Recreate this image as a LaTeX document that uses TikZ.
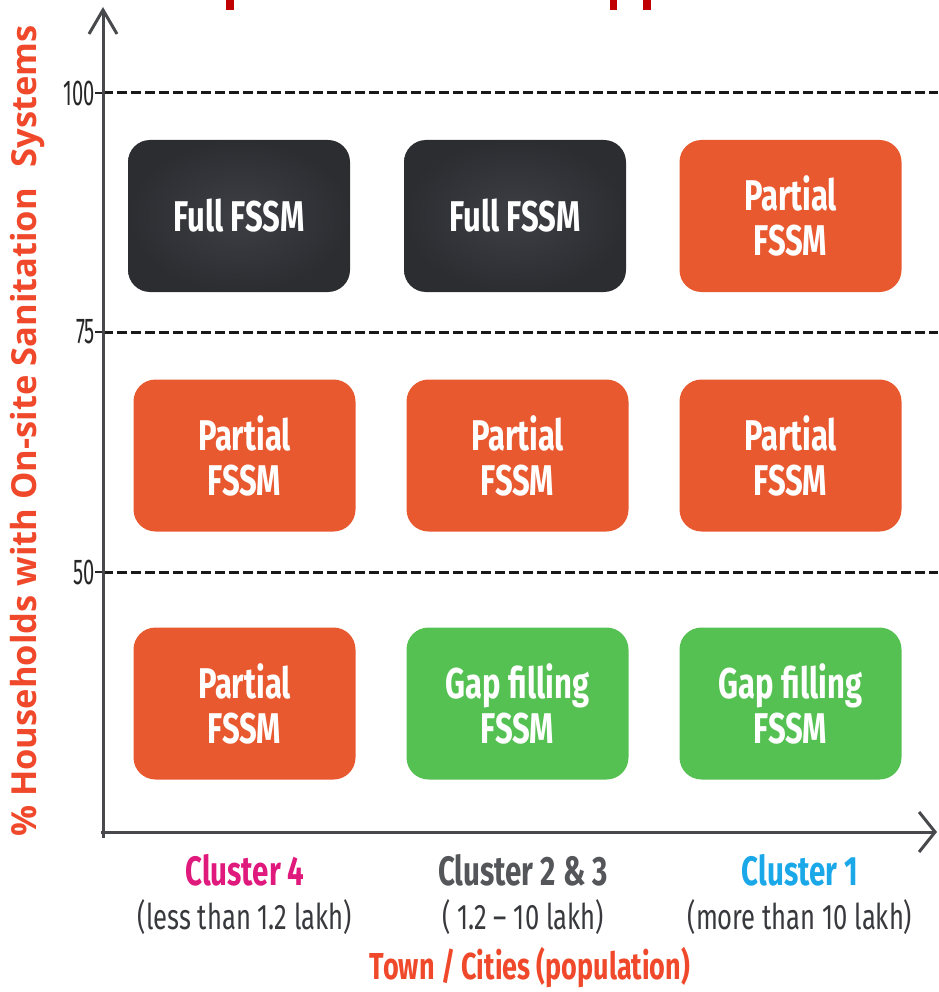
\documentclass[tikz,border=0pt]{standalone}
\usepackage{fontspec}
\newfontfamily\cond[FakeStretch=0.72]{Fira Sans}
\newfontfamily\tickfont[FakeStretch=0.56]{Fira Sans}
\newfontfamily\labfont{Open Sans}
\usetikzlibrary{arrows.meta}
\definecolor{darkbox}{HTML}{2C2D31}
\definecolor{darkboxin}{HTML}{3E3F44}
\definecolor{orangebox}{HTML}{E85930}
\definecolor{greenbox}{HTML}{56C153}
\definecolor{axisgray}{HTML}{48494D}
\definecolor{labred}{HTML}{F0482A}
\definecolor{clmag}{HTML}{E0197D}
\definecolor{clgray}{HTML}{55565A}
\definecolor{clcyan}{HTML}{1BA8E8}
\definecolor{subgray}{HTML}{38393D}
\definecolor{topred}{HTML}{C00000}
\begin{document}
\begin{tikzpicture}[x=1pt,y=-1pt,
  box/.style={rounded corners=22pt, minimum width=222pt, minimum height=152pt,
    text=white, font=\cond\bfseries\fontsize{43}{45}\selectfont, align=center, inner sep=0pt},
  fullbox/.style={box, inner color=darkboxin, outer color=darkbox},
  partbox/.style={box, fill=orangebox},
  gapbox/.style={box, fill=greenbox},
  axisline/.style={line width=3pt, draw=axisgray},
  gridline/.style={line width=3pt, draw=black!90, dash pattern=on 10pt off 4pt},
  ticklab/.style={anchor=east, inner sep=0pt, font=\tickfont\fontsize{36}{36}\selectfont, text=black!85},
  clab/.style={inner sep=0pt, font=\cond\bfseries\fontsize{41}{41}\selectfont},
  sublab/.style={inner sep=0pt, font=\cond\fontsize{35.5}{35.5}\selectfont, text=subgray}
]
\useasboundingbox (0,0) rectangle (938,992);
% cropped title fragments at the top
\fill[topred] (226,0) rectangle (234,10);
\fill[topred] (610,0) rectangle (617,10);
\fill[topred] (643,0) rectangle (651,10);

% coordinates
\coordinate (o) at (103,832);
\coordinate (ybot) at (103,838);
\coordinate (ytop) at (103,7);
\coordinate (xl) at (101,832);
\coordinate (xr) at (937,832);
\coordinate (g100l) at (103,93);  \coordinate (g100r) at (938,93);
\coordinate (g75l) at (103,332);  \coordinate (g75r) at (938,332);
\coordinate (g50l) at (103,572);  \coordinate (g50r) at (938,572);
\coordinate (t100) at (95,93);
\coordinate (t75) at (95,332);
\coordinate (t50) at (95,572);

% grid lines
\draw[gridline] (g100l) -- (g100r);
\draw[gridline] (g75l) -- (g75r);
\draw[gridline] (g50l) -- (g50r);

% ticks
\draw[line width=1.5pt, black!85] (t100) -- (g100l);
\draw[line width=1.5pt, black!85] (t75) -- (g75l);
\draw[line width=1.5pt, black!85] (t50) -- (g50l);
\node[ticklab] (l100) at (t100) {100};
\node[ticklab] (l75) at (t75) {75};
\node[ticklab] (l50) at (t50) {50};

% axes
\draw[axisline, -{Straight Barb[length=24pt,width=28pt]}] (ybot) -- (ytop);
\draw[axisline, -{Straight Barb[length=16pt,width=40pt]}] (xl) -- (xr);

% boxes
\node[fullbox] (b11) at (239,216) {Full FSSM};
\node[fullbox] (b12) at (515,216) {Full FSSM};
\node[partbox] (b13) at (790.5,216) {Partial\\FSSM};
\node[partbox] (b21) at (244.5,455.5) {Partial\\FSSM};
\node[partbox] (b22) at (517.5,455.5) {Partial\\FSSM};
\node[partbox] (b23) at (790.5,455.5) {Partial\\FSSM};
\node[partbox] (b31) at (244.5,703.5) {Partial\\FSSM};
\node[gapbox] (b32) at (517.5,703.5) {Gap filling\\FSSM};
\node[gapbox] (b33) at (790.5,703.5) {Gap filling\\FSSM};

% y label
\node[rotate=90, inner sep=0pt, text=labred, font=\labfont\bfseries\fontsize{34.5}{34.5}\selectfont] (ylab) at (28,431) {\%~Households with On-site Sanitation\hspace{0.6em}Systems};

% cluster labels
\node[clab, text=clmag] (c4) at (245,870) {Cluster 4};
\node[clab, text=clgray] (c23) at (523,870) {Cluster 2 \& 3};
\node[clab, text=clcyan] (c1) at (800,870) {Cluster 1};
\node[sublab] (s4) at (245,917) {(less than 1.2 lakh)};
\node[sublab] (s23) at (523,917) {( 1.2 – 10 lakh)};
\node[sublab] (s1) at (800,917) {(more than 10 lakh)};
\node[clab, text=labred, font=\cond\fontsize{37.5}{37.5}\selectfont\bfseries] (xlab) at (530,968) {Town / Cities (population)};
\end{tikzpicture}
\end{document}
